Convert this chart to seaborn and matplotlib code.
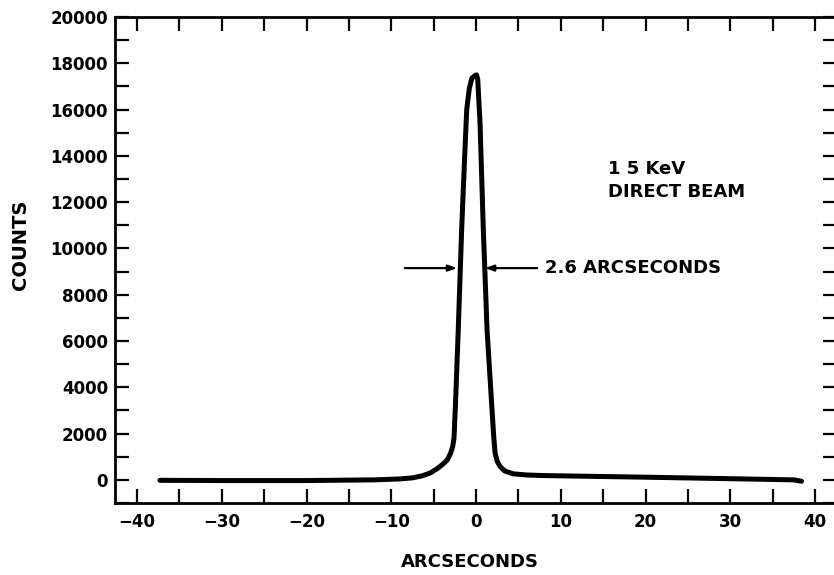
import matplotlib
matplotlib.use("Agg")
import matplotlib.pyplot as plt
from matplotlib.ticker import MultipleLocator
import seaborn as sns
import pandas as pd

# ---- data ----
arcsec = [-37.3, -30.0, -20.0, -12.0, -9.0, -7.5, -6.3, -5.4, -4.6, -3.9, -3.4, -3.0,
          -2.75, -2.6, -2.4, -2.1, -1.7, -1.35, -1.1, -0.8, -0.5, -0.2, 0.05, 0.2,
          0.47, 0.86, 1.3, 1.86, 2.1, 2.25, 2.5, 2.84, 3.4, 4.4, 6.0, 8.0, 12.3,
          20.0, 30.0, 37.5, 38.4]
counts = [-20, -30, -30, 0, 40, 86, 180, 300, 480, 680, 860, 1150,
          1450, 1800, 3500, 6480, 10800, 13900, 16000, 16900, 17350, 17450, 17500, 17300,
          15420, 10800, 6480, 3170, 1800, 1150, 800, 575, 380, 260, 210, 185, 160,
          115, 50, 0, -60]

xticks_major = [-40, -30, -20, -10, 0, 10, 20, 30, 40]
yticks_major = [0, 2000, 4000, 6000, 8000, 10000, 12000, 14000, 16000, 18000, 20000]

fwhm_level = 9150
fwhm_left = -2.24
fwhm_right = 1.06
fwhm_label = "2.6 ARCSECONDS"
energy_lines = ["1 5 KeV", "DIRECT BEAM"]

df = pd.DataFrame({"ARCSECONDS": arcsec, "COUNTS": counts})

sns.set_style("ticks")
plt.rcParams["font.family"] = ["DejaVu Sans"]
plt.rcParams["font.weight"] = "bold"
plt.rcParams["text.color"] = "black"
plt.rcParams["axes.labelcolor"] = "black"
plt.rcParams["xtick.color"] = "black"
plt.rcParams["ytick.color"] = "black"
plt.rcParams["xtick.labelcolor"] = "black"
plt.rcParams["ytick.labelcolor"] = "black"

fig = plt.figure(figsize=(8.34, 5.75), dpi=100)
ax = fig.add_axes([115 / 834, 1 - 503 / 575, 722 / 834, 486 / 575])

sns.lineplot(data=df, x="ARCSECONDS", y="COUNTS", ax=ax, color="black",
             linewidth=3.6, solid_joinstyle="round", solid_capstyle="round",
             estimator=None, sort=False)

ax.set_xlim(-42.6, 42.59)
ax.set_ylim(-1000, 20000)

ax.set_xticks(xticks_major)
ax.set_xticklabels([f"{v}".replace("-", "\u2212") for v in xticks_major])
ax.xaxis.set_minor_locator(MultipleLocator(5))
ax.set_yticks(yticks_major)
ax.set_yticklabels([str(v) for v in yticks_major])
ax.yaxis.set_minor_locator(MultipleLocator(1000))

ax.tick_params(which="both", direction="in", top=True, right=True,
               length=10, width=1.6, color="black")
ax.tick_params(axis="x", which="major", labelsize=12, pad=7, labelcolor="black")
ax.tick_params(axis="y", which="major", labelsize=12, pad=5, labelcolor="black")
for lab in ax.get_xticklabels() + ax.get_yticklabels():
    lab.set_fontweight("bold")

for s in ax.spines.values():
    s.set_linewidth(2.0)
    s.set_color("black")

ax.set_xlabel("ARCSECONDS", fontsize=13, fontweight="bold", va="center", color="black")
ax.xaxis.set_label_coords(0.491, -0.1214)
ax.set_ylabel("COUNTS", fontsize=14, fontweight="bold", va="center", color="black")
ax.yaxis.set_label_coords(-0.1307, 0.531)

# FWHM arrows
arrow_kw = dict(arrowstyle="-|>,head_length=0.5,head_width=0.18", color="black",
                lw=1.6, shrinkA=0, shrinkB=0)
ax.annotate("", xy=(fwhm_left, fwhm_level), xytext=(-8.4, fwhm_level),
            arrowprops=arrow_kw)
ax.annotate("", xy=(fwhm_right, fwhm_level), xytext=(7.2, fwhm_level),
            arrowprops=arrow_kw)
ax.text(8.15, fwhm_level, fwhm_label, fontsize=13, fontweight="bold",
        ha="left", va="center", color="black")

ax.text(15.6, 13430, energy_lines[0], fontsize=13, fontweight="bold",
        ha="left", va="center", color="black")
ax.text(15.6, 12440, energy_lines[1], fontsize=13, fontweight="bold",
        ha="left", va="center", color="black")

fig.savefig("out.png", dpi=100, facecolor="white")
